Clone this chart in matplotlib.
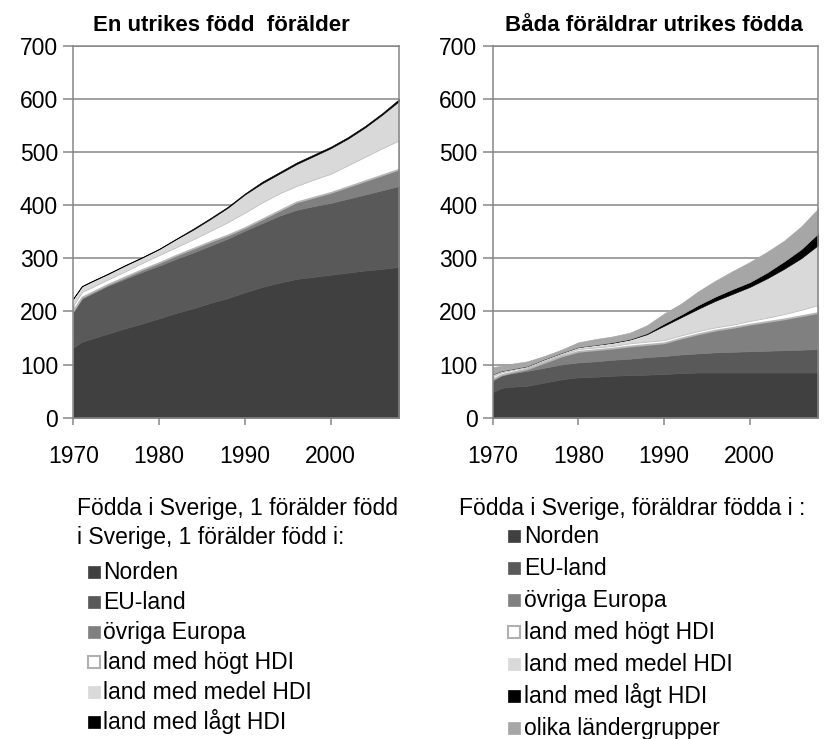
import matplotlib
matplotlib.use("Agg")
import matplotlib.pyplot as plt
from matplotlib.patches import Rectangle

plt.rcParams['font.family'] = ['Liberation Sans', 'DejaVu Sans']

years = [1970, 1971, 1972, 1974, 1976, 1978, 1980, 1982, 1984, 1986, 1988,
         1990, 1992, 1994, 1996, 1998, 2000, 2002, 2004, 2006, 2008]

# Left panel: one parent born abroad (stacked values, thousands)
l_norden = [132, 143, 148, 158, 168, 177, 187, 197, 206, 216, 225, 236, 246, 254, 261, 265, 269, 273, 277, 280, 284]
l_eu = [67, 81, 84, 90, 93, 97, 99, 102, 105, 108, 112, 116, 120, 126, 130, 133, 135, 139, 143, 148, 152]
l_ovr = [3, 3, 3, 3, 4, 5, 6, 7, 8, 8, 7, 6, 8, 10, 15, 17, 20, 23, 26, 29, 32]
l_hog = [11, 11, 10, 10, 11, 13, 15, 16, 18, 21, 25, 29, 32, 33, 31, 34, 36, 41, 46, 51, 55]
l_med = [11, 9, 10, 9, 10, 9, 10, 14, 17, 21, 26, 33, 35, 36, 40, 43, 47, 49, 54, 62, 73]
l_lag = [1, 1, 1, 1, 1, 1, 1, 1, 2, 2, 2, 2, 3, 3, 3, 3, 3, 3, 3, 3, 4]

# Right panel: both parents born abroad
r_norden = [48, 56, 58, 60, 66, 72, 76, 77, 79, 80, 81, 82, 84, 85, 85, 85, 85, 85, 85, 85, 85]
r_eu = [22, 23, 25, 28, 28, 28, 28, 29, 30, 31, 33, 34, 35, 36, 38, 39, 40, 41, 42, 43, 44]
r_ovr = [3, 2, 2, 4, 10, 16, 21, 22, 22, 24, 24, 25, 31, 37, 42, 46, 51, 55, 59, 64, 69]
r_hog = [6, 5, 5, 4, 4, 4, 5, 5, 5, 6, 6, 6, 6, 6, 6, 6, 7, 8, 10, 12, 15]
r_med = [3, 2, 1, 1, 2, 2, 3, 4, 5, 6, 13, 26, 33, 41, 49, 57, 63, 73, 84, 96, 112]
r_lag = [0, 0, 0, 0, 0, 0, 0, 0, 1, 1, 2, 4, 5, 7, 8, 9, 9, 11, 14, 17, 22]
r_olika = [13, 10, 10, 9, 6, 6, 9, 11, 11, 12, 15, 19, 21, 26, 30, 34, 38, 39, 39, 43, 47]

titles = ["En utrikes född  förälder", "Båda föräldrar utrikes födda"]
xticks = [1970, 1980, 1990, 2000]
yticks = [0, 100, 200, 300, 400, 500, 600, 700]

labels_left = ["Norden", "EU-land", "övriga Europa", "land med högt HDI",
               "land med medel HDI", "land med lågt HDI"]
labels_right = labels_left + ["olika ländergrupper"]
header_left = ["Födda i Sverige, 1 förälder född", "i Sverige, 1 förälder född i:"]
header_right = ["Födda i Sverige, föräldrar födda i :"]

colors = ["#404040", "#595959", "#808080", "#ffffff", "#d9d9d9", "#000000", "#a6a6a6"]
hog_edge = "#b5b5b5"
grid_col = "#868686"

W, H = 834, 739
fig = plt.figure(figsize=(W / 100, H / 100), dpi=100)

def px_ax(x0, y_top, x1, y_bot):
    return [x0 / W, 1 - y_bot / H, (x1 - x0) / W, (y_bot - y_top) / H]

axL = fig.add_axes(px_ax(73.3, 45.7, 399.3, 417.7))
axR = fig.add_axes(px_ax(492.7, 45.7, 818.3, 417.7))

FS = 16.5

def style(ax):
    ax.set_xlim(1970, 2008)
    ax.set_ylim(0, 700)
    ax.set_xticks(xticks)
    ax.set_yticks(yticks)
    ax.set_axisbelow(True)
    ax.yaxis.grid(True, color=grid_col, lw=1.1)
    for s in ax.spines.values():
        s.set_color(grid_col)
        s.set_linewidth(1.1)
    ax.tick_params(axis='both', colors=grid_col, labelcolor='black', labelsize=FS, width=1.1)
    ax.tick_params(axis='y', length=7, pad=4)
    ax.tick_params(axis='x', length=5, pad=15)

def draw(ax, series, cols):
    polys = ax.stackplot(years, *series, colors=cols, zorder=2)
    for p, c in zip(polys, cols):
        if c == "#ffffff":
            p.set_edgecolor(hog_edge)
            p.set_linewidth(1.3)
        else:
            p.set_edgecolor(c)
            p.set_linewidth(0.4)

draw(axL, [l_norden, l_eu, l_ovr, l_hog, l_med, l_lag], colors[:6])
draw(axR, [r_norden, r_eu, r_ovr, r_hog, r_med, r_lag, r_olika], colors)
style(axL)
style(axR)

def ftext(x, y, s, **kw):
    fig.text(x / W, 1 - y / H, s, **kw)

ftext(221, 31, titles[0], fontsize=16, fontweight='bold', ha='center', va='baseline')
ftext(654, 31, titles[1], fontsize=16, fontweight='bold', ha='center', va='baseline')

def legend(x_head, y_heads, x_box, x_text, y_items, labels, headers):
    for yh, h in zip(y_heads, headers):
        ftext(x_head, yh + 8, h, fontsize=FS, ha='left', va='baseline')
    for yc, lab, col in zip(y_items, labels, colors):
        ec = "#b0b0b0" if col == "#ffffff" else col
        fig.patches.append(Rectangle(((x_box) / W, 1 - (yc + 6.5) / H), 12 / W, 12 / H,
                                     transform=fig.transFigure, facecolor=col,
                                     edgecolor=ec, lw=1.5 if col == "#ffffff" else 0.5))
        ftext(x_text, yc + 8, lab, fontsize=FS, ha='left', va='baseline')

left_items = [571 + 30 * i for i in range(6)]
right_items = [535 + 32 * i for i in range(7)]
legend(77, [507, 536], 88, 103, left_items, labels_left, header_left)
legend(459, [507], 508, 524, right_items, labels_right, header_right)

fig.savefig("out.png", dpi=100)
